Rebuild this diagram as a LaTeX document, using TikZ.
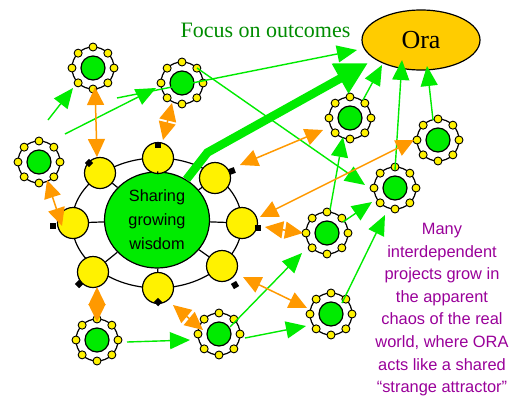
\documentclass[tikz,border=0pt]{standalone}
\usepackage{fontspec}
\setmainfont{Liberation Serif}
\setsansfont{Liberation Sans}
\usetikzlibrary{arrows.meta,shapes.geometric}

\definecolor{bright}{RGB}{0,235,0}
\definecolor{amber}{RGB}{255,153,0}
\definecolor{gold}{RGB}{255,204,0}
\definecolor{leaf}{RGB}{0,140,0}
\definecolor{plum}{RGB}{153,0,153}

\begin{document}
\begin{tikzpicture}[x=1pt,y=-1pt,
    sat/.style={circle,draw,fill=yellow,line width=1.2pt,minimum size=31pt,inner sep=0pt},
    knob/.style={rectangle,fill=black,minimum size=6pt,inner sep=0pt},
    spoke/.style={line width=1.2pt},
    project/.style={circle,minimum size=52pt,inner sep=0pt},
    core/.style={circle,draw,fill=bright,line width=1.2pt,minimum size=24pt,inner sep=0pt},
    petal/.style={circle,draw,fill=yellow,line width=0.9pt,minimum size=8pt,inner sep=0pt},
    gline/.style={color=bright,line width=1.4pt,-{Triangle[length=20pt,width=17pt]}},
    oline/.style={color=amber,line width=1.5pt,{Triangle[length=18pt,width=17pt]}-{Triangle[length=18pt,width=17pt]}},
    bigarrow/.style={color=bright,line width=8.5pt,-{Triangle[length=32pt,width=32pt]}}]
    \useasboundingbox (0,0) rectangle (511,397);

    % the shared hub with its ring of satellites
    \draw[line width=1.2pt] (157,223) ellipse[x radius=85, y radius=65];
    \node[ellipse,draw,fill=bright,line width=1.2pt,minimum width=105pt,minimum height=96pt,
          inner sep=0pt,align=center,font=\sffamily\fontsize{16.3}{24}\selectfont]
          (hub) at (157,220) {Sharing\\growing\\wisdom};
    \foreach \n/\x/\y/\mx/\my/\r in {s0/242/223/16/5/0, s45/215/178/17/-7/20,
            s90/158/158/0/-13/0, s135/100/173/-11/-10/45, s180/73/223/-20/3/0,
            s225/93/272/-14/12/45, s270/158/288/0/14/45, s315/222/266/13/19/30} {
        \node[sat] (\n) at (\x,\y) {};
        \node[knob,rotate=\r] at ([shift={(\mx,\my)}]\n.center) {};
        \draw[spoke] (hub) -- (\n);
    }

    % projects
    \foreach \n/\x/\y in {p1/93/68, p2/182/83, p3/39/162, p4/350/118, p5/438/140,
            p6/395/188, p7/327/233, p8/331/314, p9/219/334, p10/97/340} {
        \node[project] (\n) at (\x,\y) {};
        \draw[line width=1.2pt] (\n.center) circle[radius=21pt];
        \node[core] at (\n.center) {};
        \foreach \a in {0,45,...,315}
            \node[petal] at ([shift={(\a:21pt)}]\n.center) {};
    }

    \node[ellipse,draw,fill=gold,line width=1.2pt,minimum width=118pt,minimum height=60pt,
          font=\fontsize{26}{30}\selectfont] (ora) at (421,40) {Ora};
    \node[anchor=base west,text=leaf,font=\fontsize{22}{26}\selectfont]
          (focus) at (177,37) {Focus on outcomes};
    \node[anchor=north,inner sep=0pt,align=center,text=plum,
          font=\sffamily\fontsize{16.4}{22.6}\selectfont] (story) at (442,223)
          {Many\\interdependent\\projects grow in\\the apparent\\chaos of the real\\world, where ORA\\acts like a shared\\“strange attractor”};

    \coordinate (loose1) at (48,120);
    \coordinate (loose2) at (65,134);
    \coordinate (loose3) at (117,98);

    \draw[bigarrow] (hub.54) -- ++(21,-27) -- ([shift={(-53,23)}]ora.center);

    \path[gline]
        (loose1) edge ([shift={(-20,20)}]p1.center)
        (loose2) edge ([shift={(-26,5)}]p2.center)
        (loose3) edge ([shift={(-64,10)}]ora.center)
        ([shift={(15,-15)}]p2.center) edge ([shift={(-30,-3)}]p6.center)
        ([shift={(13,-18)}]p4.center) edge ([shift={(-39,25)}]ora.center)
        ([shift={(0,-18)}]p6.center) edge ([shift={(-19,20)}]ora.center)
        ([shift={(-5,-20)}]p5.center) edge ([shift={(6,26)}]ora.center)
        ([shift={(3,-23)}]p7.center) edge ([shift={(-7,19)}]p4.center)
        ([shift={(16,-11)}]p7.center) edge ([shift={(-23,14)}]p6.center)
        ([shift={(11,-11)}]p8.center) edge ([shift={(-10,27)}]p6.center)
        ([shift={(11,-7)}]p9.center) edge ([shift={(-25,20)}]p7.center)
        ([shift={(26,4)}]p9.center) edge ([shift={(-25,12)}]p8.center)
        ([shift={(30,2)}]p10.center) edge ([shift={(-29,6)}]p9.center);

    \path[oline]
        ([shift={(2,19)}]p1.center) edge ([shift={(-3,-16)}]s135.center)
        ([shift={(-10,20)}]p2.center) edge ([shift={(5,-18)}]s90.center)
        ([shift={(8,18)}]p3.center) edge ([shift={(-11,3)}]s180.center)
        ([shift={(4,15)}]s225.center) edge ([shift={(0,-18)}]p10.center)
        ([shift={(15,17)}]s270.center) edge ([shift={(-16,-4)}]p9.center)
        ([shift={(21,11)}]s315.center) edge ([shift={(-24,-6)}]p8.center)
        ([shift={(23,4)}]s0.center) edge ([shift={(-24,0)}]p7.center)
        ([shift={(25,-13)}]s45.center) edge ([shift={(-27,12)}]p4.center)
        ([shift={(18,-6)}]s0.center) edge ([shift={(-24,0)}]p5.center);
\end{tikzpicture}
\end{document}
